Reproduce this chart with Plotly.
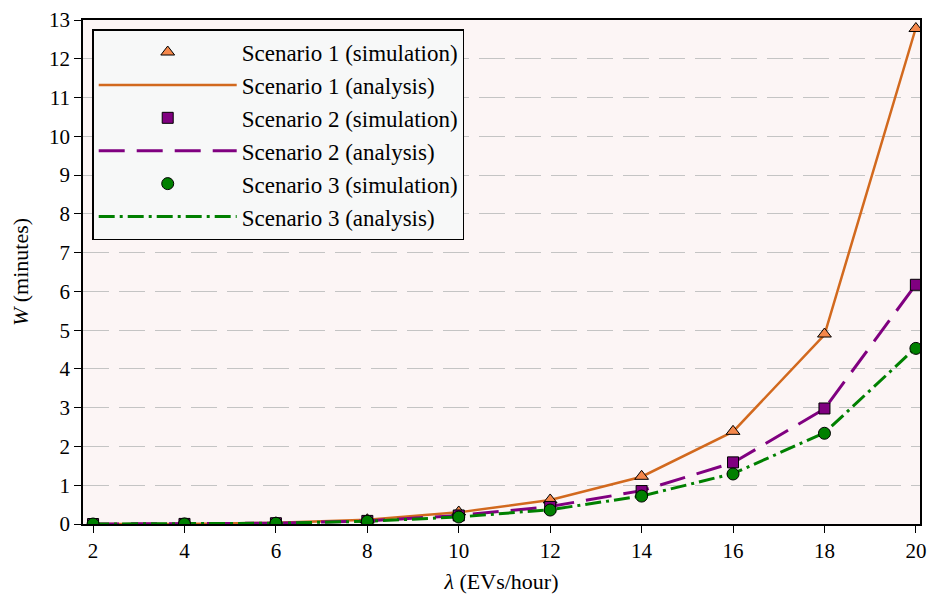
import plotly.graph_objects as go

lam = [2, 4, 6, 8, 10, 12, 14, 16, 18, 20]
s1_sim = [0.0, 0.003, 0.03, 0.11, 0.31, 0.62, 1.23, 2.39, 4.90, 12.78]
s1_ana = [0.0, 0.003, 0.03, 0.11, 0.30, 0.62, 1.22, 2.38, 4.88, 12.80]
s2_sim = [0.0, 0.002, 0.02, 0.08, 0.22, 0.44, 0.85, 1.59, 2.98, 6.17]
s2_ana = [0.0, 0.002, 0.02, 0.08, 0.22, 0.45, 0.86, 1.58, 2.97, 6.18]
s3_sim = [0.0, 0.002, 0.02, 0.07, 0.18, 0.36, 0.72, 1.29, 2.34, 4.53]
s3_ana = [0.0, 0.002, 0.02, 0.07, 0.18, 0.37, 0.72, 1.30, 2.35, 4.55]

c1_line, c1_mark = "#D2691E", "#F4874B"
c2 = "#800080"
c3 = "#008000"

fig = go.Figure()
fig.add_trace(go.Scatter(x=lam, y=s1_ana, mode="lines", name="Scenario 1 (analysis)",
                         line=dict(color=c1_line, width=2.5), legendrank=2))
fig.add_trace(go.Scatter(x=lam, y=s2_ana, mode="lines", name="Scenario 2 (analysis)",
                         line=dict(color=c2, width=3, dash="26px,12px"), legendrank=4))
fig.add_trace(go.Scatter(x=lam, y=s3_ana, mode="lines", name="Scenario 3 (analysis)",
                         line=dict(color=c3, width=3, dash="16px,5px,3px,5px"), legendrank=6))
fig.add_trace(go.Scatter(x=lam, y=s1_sim, mode="markers", name="Scenario 1 (simulation)",
                         marker=dict(symbol="triangle-up", size=12, color=c1_mark,
                                     line=dict(color="black", width=1)), legendrank=1))
fig.add_trace(go.Scatter(x=lam, y=s2_sim, mode="markers", name="Scenario 2 (simulation)",
                         marker=dict(symbol="square", size=11, color=c2,
                                     line=dict(color="black", width=1)), legendrank=3))
fig.add_trace(go.Scatter(x=lam, y=s3_sim, mode="markers", name="Scenario 3 (simulation)",
                         marker=dict(symbol="circle", size=12, color=c3,
                                     line=dict(color="black", width=1)), legendrank=5))

font_family = "Liberation Serif"
fig.update_layout(
    width=934, height=600,
    margin=dict(l=83, r=8, t=18, b=76),
    paper_bgcolor="white",
    plot_bgcolor="#FCF5F5",
    font=dict(family=font_family, size=20, color="black"),
    showlegend=True,
    legend=dict(x=0.011, y=0.982, xanchor="left", yanchor="top",
                bgcolor="#F7F8F8", bordercolor="black", borderwidth=1.5,
                font=dict(size=23, family=font_family), itemwidth=138,
                tracegroupgap=0),
    xaxis=dict(range=[1.78, 20.09], tickvals=lam, ticks="outside", ticklen=7,
               tickcolor="black", showline=True, linecolor="black", linewidth=1.5,
               mirror=True, showgrid=False, zeroline=False,
               tickfont=dict(size=21, family=font_family),
               title=dict(text="<i>λ</i> (EVs/hour)", font=dict(size=22, family=font_family), standoff=12)),
    yaxis=dict(range=[0, 13], dtick=1, ticks="outside", ticklen=7,
               tickcolor="black", showline=True, linecolor="black", linewidth=1.5,
               mirror=True, showgrid=True, gridcolor="#C4C4C4", griddash="26px,10px",
               gridwidth=1.2, zeroline=False, tickfont=dict(size=21, family=font_family),
               title=dict(text="<i>W</i> (minutes)", font=dict(size=22, family=font_family), standoff=14)),
)

fig.write_html("out.html")
